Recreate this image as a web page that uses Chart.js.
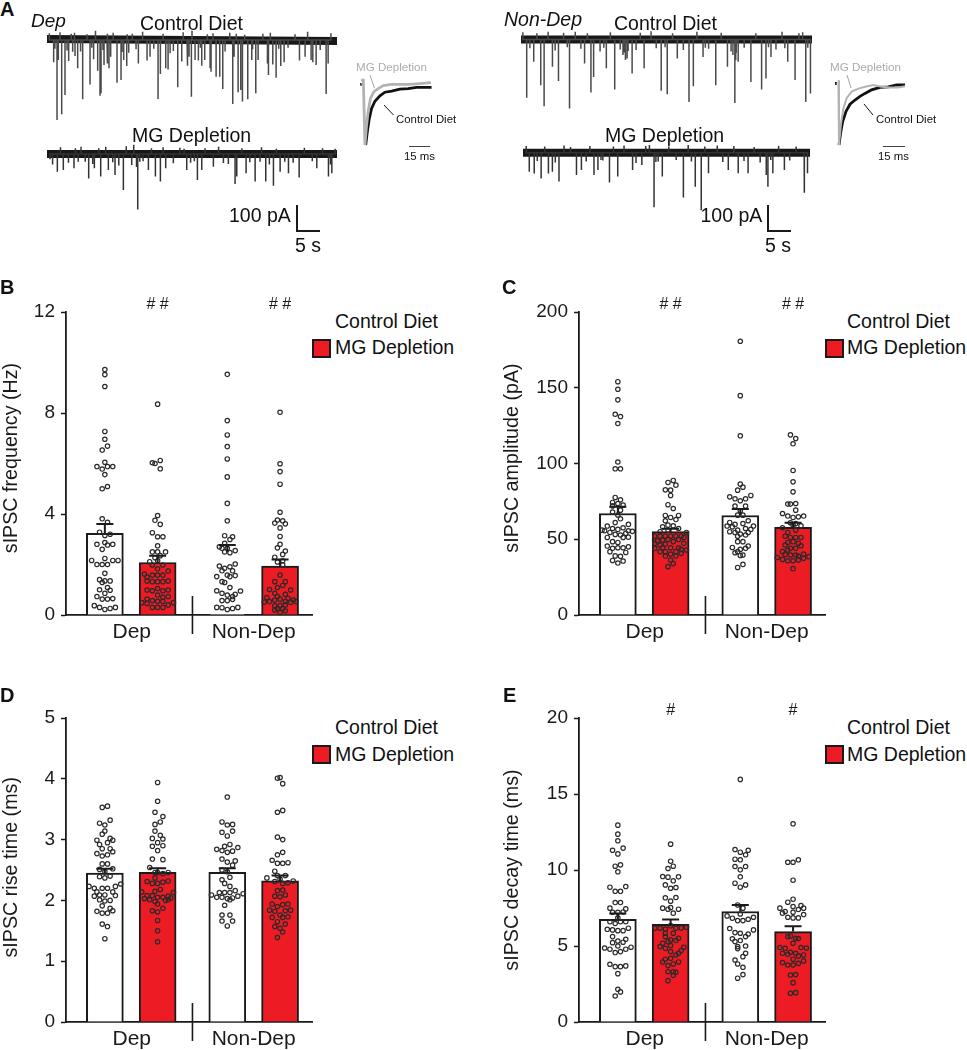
<!DOCTYPE html>
<html>
<head>
<meta charset="utf-8">
<title>sIPSC figure</title>
<script src="https://cdn.jsdelivr.net/npm/chart.js@4"></script>
<style>
  html, body { margin: 0; padding: 0; background: #fff; }
  #page { position: relative; width: 967px; height: 1050px; overflow: hidden; font-family: "Liberation Sans", Arial, sans-serif; color: #111; }
  #page canvas { position: absolute; }
  .lbl { position: absolute; white-space: nowrap; line-height: 1; transform: translateY(-50%); }
  .box { position: absolute; box-sizing: border-box; background: #ed1c24; border: 2px solid #1a1a1a; width: 19px; height: 19px; }
  .bar { position: absolute; background: #1a1a1a; }
  svg { position: absolute; left: 0; top: 0; }
</style>
</head>
<body>
<div id="page"></div>
<script>
// bar summary values: Dep control, Dep MG, Non-Dep control, Non-Dep MG
const bMeans = [3.23, 2.08, 2.5, 1.94];
const bCaps = [3.6, 2.35, 2.77, 2.2];
const cMeans = [67, 55, 65.7, 57.8];
const cCaps = [71.4, 57, 69.9, 60.9];
const dMeans = [2.45, 2.46, 2.46, 2.32];
const dCaps = [2.52, 2.53, 2.53, 2.41];
const eMeans = [6.76, 6.43, 7.27, 5.95];
const eCaps = [7.13, 6.74, 7.7, 6.3];

const groupX = [1, 2, 3.32, 4.32];
const xLabels = ["Dep", "Non-Dep"];
const xLabelAt = [1.51, 3.82];
const bTicks = [0, 4, 8, 12];
const cTicks = [0, 50, 100, 150, 200];
const dTicks = [0, 1, 2, 3, 4, 5];
const eTicks = [0, 5, 10, 15, 20];
const bSig = ["", "# #", "", "# #"];
const cSig = ["", "# #", "", "# #"];
const dSig = ["", "", "", ""];
const eSig = ["", "#", "", "#"];

// individual cells: Y = value, X = sideways offset in half dot widths
const bDepCtrlY = [9.72,9.52,9.05,7.27,6.96,6.69,6.53,6.05,5.88,5.88,5.88,5.78,5.56,5.09,5.0,3.81,3.67,3.28,3.2,3.15,2.8,2.87,2.77,2.8,2.6,2.24,2.16,2.16,2.16,2.0,2.0,2.0,1.65,1.4,1.35,1.29,1.35,1.0,1.09,0.98,0.86,0.73,0.63,0.65,0.63,0.37,0.3,0.22,0.26,0.3];
const bDepCtrlX = [0,0,0,0,0,1,-1,0,-3,1,3,-1,0,1,-1,-1,1,-2,2,0,-3,0,1,3,-1,0,-5,3,5,-3,-1,1,0,-2,2,-1,0,-2,1,2,0,-3,-1,3,1,-4,-2,0,2,4];
const bDepMgY = [8.35,6.03,6.0,6.12,5.79,3.94,3.75,3.59,3.26,3.1,3.1,2.74,2.5,2.5,2.5,2.35,2.27,2.11,2.15,1.98,1.98,1.83,1.74,1.62,1.5,1.58,1.58,1.58,1.32,1.32,1.35,1.32,1.35,1.05,0.99,0.96,0.96,0.99,0.79,0.73,0.7,0.63,0.57,0.54,0.54,0.49,0.46,0.49,0.4,0.3,0.3,0.3];
const bDepMgX = [0,-2,-1,1,1,0,-1,1,-2,0,2,0,-2,0,3,1,-1,-3,0,2,-2,0,4,-5,-4,-2,0,2,-2,0,-4,2,4,0,-4,-2,2,4,0,4,2,-4,-2,0,2,-6,-4,6,4,-2,0,2];
const bNonCtrlY = [9.53,7.7,7.13,6.67,6.18,5.47,4.42,3.73,3.14,3.1,2.99,2.7,2.84,2.64,2.64,2.5,2.47,2.55,2.02,1.94,1.91,1.85,1.75,1.75,1.58,1.56,1.52,1.52,1.32,1.29,1.09,0.96,0.95,0.86,0.79,0.82,0.73,0.57,0.57,0.62,0.3,0.29,0.22,0.26,0.3];
const bNonCtrlX = [0,0,0,0,0,0,0,0,-1,2,1,-3,-1,-2,0,-1,1,3,3,-3,1,-1,-2,2,0,3,1,-4,-2,-1,1,-4,5,-2,0,3,2,-2,0,2,-4,-2,0,2,4];
const bNonMgY = [8.03,5.99,5.68,5.18,4.07,3.76,3.73,3.64,3.61,3.45,3.11,2.8,2.66,2.53,2.4,2.29,2.1,2.15,1.99,1.58,1.32,1.32,1.17,1.09,1.01,0.99,0.86,0.82,0.73,0.69,0.63,0.66,0.59,0.53,0.51,0.53,0.59,0.53,0.5,0.37,0.36,0.4,0.26,0.26,0.2,0.17,0.1];
const bNonMgX = [0,0,0,0,0,-1,1,-2,2,0,0,0,-1,2,1,-2,-1,1,1,0,-2,2,1,-1,-4,4,-2,2,-1,-5,0,3,-2,-4,-6,2,5,6,4,0,-2,2,-1,1,-2,2,0];

const cDepCtrlY = [154,149,142,132.5,131,126.4,101,96.5,96.5,77.6,76,74.3,73.6,72,72.5,69.2,68,66,63.5,61,59.8,58.7,57.6,57.1,55.6,56.5,55.6,55.2,54.5,56,53.9,53.2,52.8,51.2,51.2,51.4,48.4,47.9,45.5,44,44.4,44.4,45,41.8,41.3,39,38.7,36,35.6,34.3];
const cDepCtrlX = [0,0,0,-1,1,0,0,-1,1,-1,1,-2,0,-2,2,1,-2,0,1,-1,4,-4,2,-2,-5,0,4,5.5,-3,-6,3,-1,1,-4,2,4,-2,0,-4,-2,0,2,4,-3,3,-1,1,-2,2,0];
const cDepMgY = [88.8,87.5,85.7,82.6,82.4,78.9,72.8,70.3,65.7,65.7,64.4,63,62.2,59.3,58.9,58.2,57.1,56,55,54.5,52,52,52,52,52,52,48.8,49.5,49.9,48.4,49.9,51.2,47.3,46.8,47.3,46.2,44.4,44.4,44,44.4,43.3,42.9,41.8,41.8,41.8,40.2,38.9,38.9,36.3,34,31.9,40.7];
const cDepMgX = [1,-1,2,-2,0,0,-1,1,3,-2,0,2,-2,-1,1,-3,3,-1,-4,6,-6,-4,-2,0,2,4,-5,-3,-1,1,3,5,-6,-2,5,-4,0,3,-6,-3,4,6,-4,-2,2,0,-2,2,0,1,-1,4];
const cNonCtrlY = [180.7,144.8,118.3,86.4,84.4,82.4,78.9,78,76.7,76.7,75.4,71.9,71.9,68.8,65.9,65.9,61.1,62.2,59.8,60.4,58.7,58.2,58.7,56,57.1,56.5,55,54.5,54.5,53.4,52.8,52,44.6,48.4,48.4,45.5,43.3,44,41.1,41.8,39.6,39.3,31.4,33.4];
const cNonCtrlX = [0,0,0,0,1,-1,4,-4,-2,2,0,-2,2,0,-1,1,-4,3,-2,1,-5,-3,5,-1,2,4,-4,-2,3,0,2,-1,-3,1,-1,3,0,2,-2,-1,1,0,-1,1];
const cNonMgY = [118.9,116.5,113,95.4,87.9,81.3,73.2,73.2,73.6,69.2,67,65.3,64.4,64.8,65.3,60.9,60.4,57.6,59.3,58.9,54.5,56,52,51.2,51.2,51.2,47.9,48.4,47.3,46.2,45.7,44,44,42.9,41.8,40,39.6,39.6,40.2,38.9,38.5,38,36.7,35.8,35.8,36.3,37.4,30.6];
const cNonMgX = [-1,1,0,0,0,0,-2,-1,1,1,-4,-2,0,2,4,-1,1,-4,0,3,-2,1,-3,-1,1,3,-2,0,2,-3,3,-1,1,-2,-4,-3,-1,1,4,2,6,-6,-4,-2,0,2,4,0];

const dDepCtrlY = [3.53,3.55,3.32,3.27,3.24,3.14,3.09,3.02,2.99,2.99,2.95,2.92,2.85,2.85,2.8,2.77,2.75,2.73,2.6,2.6,2.51,2.52,2.47,2.39,2.4,2.37,2.27,2.23,2.23,2.2,2.2,2.2,2.14,2.14,2.07,2.09,2.09,2.08,2.01,1.99,2,1.91,1.87,1.82,1.83,1.79,1.79,1.61,1.57,1.37];
const dDepCtrlX = [-1,1,2,-2,0,0,-1,2,-3,3,1,-2,-1,2,3,-3,1,-1,-1,1,-2,3,0,-2,2,0,6,-6,4,-4,-1,1,-3,3,-4,-2,0,4,-2,0,2,-1,2,-3,3,-1,1,-1,1,0];
const dDepMgY = [3.94,3.63,3.45,3.38,3.29,3.25,3.14,3.07,3.02,3.01,2.95,2.89,2.9,2.82,2.68,2.67,2.54,2.46,2.46,2.46,2.44,2.37,2.31,2.32,2.28,2.28,2.3,2.18,2.15,2.14,2.13,2.08,2.08,2.05,2.05,2.07,2.03,2.04,2.01,1.98,2,2.01,1.94,1.87,1.83,1.81,1.67,1.5,1.32];
const dDepMgX = [0,0,-1,2,1,-1,-1,1,-2,2,0,-2,2,0,-2,2,-3,0,4,-1,2,-1,-4,4,-2,0,2,1,-1,-6,6,-4,-2,0,2,4,-5,5,-3,-1,3,4,0,2,-2,0,0,0,0];
const dNonCtrlY = [3.7,3.29,3.24,3.25,3.12,3.14,3.06,2.92,2.89,2.87,2.84,2.82,2.81,2.79,2.68,2.65,2.63,2.58,2.5,2.47,2.38,2.34,2.28,2.23,2.16,2.13,2.13,2.13,2.11,2.09,2.07,2.05,2.05,2.03,2.04,2.01,1.92,1.76,1.76,1.66,1.66,1.58];
const dNonCtrlX = [0,-2,0,2,-2,2,0,1,-1,4,-4,-2,2,0,-2,3,0,2,-2,0,1,-2,-1,1,3,-3,-1,1,6,-6,4,-4,-2,0,2,1,-1,-2,1,-2,2,0];
const dNonMgY = [4.01,4.02,3.92,3.48,3.45,3.04,3,2.79,2.75,2.66,2.61,2.61,2.62,2.48,2.41,2.41,2.37,2.35,2.31,2.28,2.29,2.32,2.17,2.16,2.07,2.06,2.09,1.94,1.9,1.93,1.94,1.84,1.82,1.83,1.84,1.76,1.72,1.72,1.73,1.65,1.61,1.57,1.54,1.48,1.39];
const dNonMgX = [-1,0,1,1,-1,-1,1,1,-1,-3,-1,1,3,-2,-1,2,-5,0,-2,1,3,5,1,-1,-2,0,2,-3,-1,1,3,-4,-2,2,4,0,1,-3,3,-1,2,-2,0,1,-1];

const eDepCtrlY = [12.95,12.36,11.92,11.44,11.3,11.06,10.34,10.25,9.88,8.91,8.87,8.6,8.6,7.86,7.86,7.49,7.44,7.22,7.22,7.24,6.85,6.6,6.6,6.6,6.48,6.17,6.1,6.06,6.01,6.01,5.62,5.44,5.33,5.22,5.25,5,4.92,4.87,4.79,4.79,4.63,4.57,3.8,3.64,3.64,3.69,3.18,2.15,1.98,1.71];
const eDepCtrlX = [0,0,0,2,-2,0,1,-1,0,3,-3,-1,1,-1,1,-3,3,-2,0,2,0,-3,3,1,-1,4,-4,-2,0,2,-2,3,0,-2,2,0,5,-5,-3,3,1,-1,-3,-1,1,3,0,0,1,-1];
const eDepMgY = [11.7,10.58,10.25,10.1,9.57,9.53,9.55,9.29,9.02,8.85,8.8,8.17,8.19,7.95,7.53,7.49,7.42,7.42,7.16,6.34,6.17,6.12,6.17,6.19,6.23,6.17,5.84,5.84,5.62,5.51,5.4,5.36,5.18,5.29,4.96,5.03,4.92,4.85,4.7,4.63,4.52,4.41,4.19,4.13,3.95,3.95,3.82,3.71,3.31,3.27,3.31,3.07,2.72];
const eDepMgX = [0,0,1,-1,-3,-1,3,1,-2,2,0,-2,2,0,0,-3,-1,3,1,0,-4,-2,2,4,6,-6,-2,1,-2,3,0,2,-3,-1,-4,0,5,-2,4,0,3,2,0,-2,-3,3,1,-1,1,2,-1,1,-1];
const eNonCtrlY = [15.96,11.35,11.3,11.17,11,10.71,10.67,10.23,10.23,10.01,9.55,9.13,9.02,8.87,7.7,7.49,7.11,6.89,6.98,6.83,6.76,6.67,6.67,6.15,6.06,5.88,5.84,5.79,5.62,5.47,5.36,5.29,4.96,5,4.83,4.52,4.3,4.08,3.82,3.6,3.12,2.88];
const eNonCtrlX = [0,-2,3,0,2,-2,0,2,-2,0,0,-2,2,0,-1,1,0,5,-5,-3,3,-1,1,-4,5,-2,0,3,2,-3,0,-2,-1,2,-1,2,1,-2,-1,1,1,-1];
const eNonMgY = [13.04,10.67,10.51,10.51,9.33,8.08,7.88,7.66,7.49,7.6,7.49,7.27,7.22,7.4,7.16,7.07,6.89,6.85,6.85,5.62,5.66,5.51,5.49,5.18,4.9,4.85,4.9,4.87,4.52,4.45,4.59,4.52,4.41,4.13,4.35,3.91,3.75,3.75,3.86,4.02,3.09,3.12,2.59,1.89,1.93];
const eNonMgX = [0,2,-2,0,0,0,-2,3,-5,0,4,-3,0,2,-4,4,-2,0,2,-2,-1,1,2,0,-5,-3,3,5,-4,-2,-1,1,4,0,2,-4,-2,0,2,4,-1,1,0,-1,1];

// recordings in panel A: event time (s) and depth (pA)
const depCtrlT = [1.43,2.15,2.43,3.15,3.86,4.65,5.51,6.01,6.58,7.65,9.23,10.0,10.87,11.37,11.59,12.23,12.88,13.3,13.66,15.02,15.88,16.45,17.1,17.53,19.6,21.46,22.1,23.82,24.32,25.47,25.97,26.4,28.04,28.9,30.04,30.47,30.97,31.76,32.47,33.19,33.83,34.98,35.19,36.27,37.05,37.7,39.84,40.13,40.99,41.56,41.92,43.06,43.92,44.78,45.28,47.28,47.5,48.43,49.14,50.14,50.86,54.15,55.36,56.65,57.01,57.73,59.87,60.3];
const depCtrlA = [86,308,77,286,212,81,45,62,109,228,171,74,118,214,205,96,90,109,64,164,154,77,100,49,90,79,64,227,131,109,113,51,182,83,99,64,218,77,79,99,77,109,122,141,141,188,246,64,201,192,237,228,77,205,77,90,135,94,145,100,86,79,64,77,86,96,208,90];
const depMgT = [0.64,2.22,3.5,5.79,6.7,8.94,10.16,11.52,13.16,14.59,16.38,18.17,19.2,19.46,21.75,23.25,24.32,25.46,29.97,32.26,33.19,35.69,37.84,40.34,40.7,42.7,44.64,45.7,46.92,48.57,50.0,51.79,54.08,57.87,60.37,61.09];
const depMgA = [20,68,62,55,30,94,55,87,62,81,138,42,50,213,62,87,106,55,62,100,62,49,35,115,87,74,106,30,106,122,68,74,90,55,87,74];
const nonCtrlT = [1.22,2.72,4.22,4.94,6.72,8.01,10.37,13.59,14.95,15.52,18.24,20.03,21.8,22.32,22.68,23.75,26.32,29.97,31.26,33.41,35.91,36.84,38.91,41.63,44.13,45.71,45.9,46.42,49.14,51.43,52.36,53.43,57.01,58.58,60.87,61.87];
const nonCtrlA = [224,86,176,257,105,160,265,92,204,144,111,192,60,79,73,131,111,197,211,73,240,180,67,176,105,244,80,86,163,192,150,67,86,156,240,208];
const nonMgT = [1.36,2.43,3.93,5.51,6.37,7.8,11.59,12.66,15.38,16.24,18.74,20.53,23.75,25.75,28.4,30.19,34.76,37.34,38.63,40.2,44.49,46.64,48.78,52.72,53.08,54.15,56.65,60.94,61.66];
const nonMgA = [73,80,99,80,73,111,86,67,86,67,115,92,67,47,210,92,172,131,221,79,67,79,79,86,131,79,67,154,79];

// small noise on the baseline, positive is upward
const depCtrlNoiseT = [0.5,1.7,2.8,4.3,5.2,5.9,7.2,8.6,9.6,10.4,12.0,13.0,14.2,16.1,17.2,18.3,19.1,20.5,22.9,24.9,27.1,29.2,30.2,31.1,32.9,34.4,35.6,38.2,39.2,40.6,42.4,44.1,46.3,47.9,49.7,51.7,53.2,55.9,58.6,60.9];
const depCtrlNoiseA = [26,-34,30,-40,24,28,-44,22,-30,36,-38,24,28,-46,22,24,-36,32,-34,24,-42,30,-32,36,-30,22,26,-44,28,24,20,-36,24,28,-34,-30,22,32,-38,26];
const depMgNoiseT = [1.2,2.9,4.6,6.1,7.3,8.2,9.8,11.1,12.6,14.1,15.4,17.0,18.6,19.9,20.6,22.4,24.9,27.1,28.5,29.4,30.8,31.6,33.9,36.8,38.9,41.8,43.5,46.0,47.7,49.2,51.0,52.8,55.2,56.9,59.1,60.8,61.8];
const depMgNoiseA = [-40,26,-34,22,28,-30,-38,22,28,-32,-44,30,36,-30,-28,22,26,-36,24,20,-34,-28,22,28,-38,22,-32,26,-40,20,-30,-34,24,-28,22,-40,20];
const nonCtrlNoiseT = [0.4,1.9,3.4,5.8,7.3,9.1,9.9,11.6,12.8,14.2,16.9,17.7,19.1,21.2,22.0,22.9,24.6,25.5,27.8,28.9,30.8,32.4,34.7,37.6,39.4,40.1,42.8,44.9,45.3,46.0,47.7,50.2,52.9,54.5,55.8,56.4,59.4,60.2,61.3];
const nonCtrlNoiseA = [28,-34,24,30,-42,26,-30,30,-36,24,-46,-32,28,-38,-50,-44,-40,26,32,-34,-30,24,-40,30,-32,-36,26,-46,-60,-52,-32,24,-30,-38,30,-34,24,28,-32];
const nonMgNoiseT = [0.7,3.1,4.7,7.0,8.9,10.3,13.7,14.5,16.9,17.3,19.6,21.9,24.5,26.6,27.4,28.8,29.3,31.6,33.2,35.8,36.5,39.4,42.1,43.3,45.7,47.9,50.1,51.4,53.7,55.4,57.8,59.2,61.0];
const nonMgNoiseA = [26,-32,24,-38,28,22,-34,26,-28,-30,24,28,-40,26,30,-36,-34,24,-28,30,-34,24,28,-36,26,-32,22,-38,-28,26,-30,24,-36];

// averaged events: time (ms) and fraction of control peak
const depCtrlAvgT = [0.5,1.6,2.95,4.5,6.8,10.2,13.6,18.2,23.8,29.5,35.2,40.9,45.4];
const depCtrlAvgV = [-1,-0.78,-0.56,-0.39,-0.27,-0.18,-0.12,-0.1,-0.07,-0.06,-0.04,-0.04,-0.04];
const depMgAvgT = [-2.7,-1.1,0,1.1,2.3,3.8,6.1,9,12.5,18,24,29.5,35,41,45];
const depMgAvgV = [0.08,0.08,-1,-0.67,-0.42,-0.22,-0.11,-0.06,-0.01,0.01,0.01,0.01,0.02,0.03,0.04];
const nonCtrlAvgT = [0,1.1,2.5,4.8,7.5,10.9,14.3,17.7,22.2,27.9,33.6,39.3,45];
const nonCtrlAvgV = [-1,-0.8,-0.61,-0.44,-0.32,-0.25,-0.19,-0.14,-0.08,-0.04,-0.03,0,0];
const nonMgAvgT = [-0.4,0,1.4,3,5.2,8.6,13.2,17.7,23.4,29,34.7,40.4,45];
const nonMgAvgV = [0.08,-1,-0.64,-0.39,-0.22,-0.11,-0.06,-0.03,0,-0.03,-0.04,-0.04,-0.02];
const depStimT = [-2.9, -2.6];
const depStimV = [0.03, -0.01];
const nonStimT = [-2.3, -2.1];
const nonStimV = [0.05, 0.0];

const FONT = "'Liberation Sans', Arial, sans-serif";
const INK = "#1a1a1a";
const RED = "#ed1c24";
const page = document.getElementById("page");
Chart.defaults.animation = false;
Chart.defaults.font.family = FONT;
Chart.defaults.color = INK;

function addCanvas(left, top, width, height) {
  const c = document.createElement("canvas");
  c.width = width;
  c.height = height;
  c.style.left = left + "px";
  c.style.top = top + "px";
  c.style.width = width + "px";
  c.style.height = height + "px";
  page.appendChild(c);
  return c;
}

function addText(text, x, cy, size, extra) {
  const d = document.createElement("div");
  d.className = "lbl";
  d.textContent = text;
  d.style.left = x + "px";
  d.style.top = cy + "px";
  d.style.fontSize = size + "px";
  Object.assign(d.style, extra || {});
  page.appendChild(d);
}

function addRule(left, top, width, height, color) {
  const d = document.createElement("div");
  d.className = "bar";
  d.style.cssText = `left:${left}px;top:${top}px;width:${width}px;height:${height}px;` + (color ? `background:${color};` : "");
  page.appendChild(d);
}

// stems, caps and the # marks, placed through the chart's scales
const summaryMarks = {
  id: "summaryMarks",
  afterDatasetsDraw(chart, _args, opts) {
    const { ctx, scales: { x, y }, chartArea } = chart;
    ctx.save();
    ctx.strokeStyle = INK;
    ctx.lineWidth = 2;
    opts.means.forEach((m, i) => {
      const px = x.getPixelForValue(groupX[i]);
      ctx.beginPath();
      ctx.moveTo(px, y.getPixelForValue(m));
      ctx.lineTo(px, y.getPixelForValue(opts.caps[i]));
      ctx.moveTo(px - 8.5, y.getPixelForValue(opts.caps[i]));
      ctx.lineTo(px + 8.5, y.getPixelForValue(opts.caps[i]));
      ctx.stroke();
    });
    ctx.fillStyle = INK;
    ctx.font = "16px " + FONT;
    ctx.textAlign = "center";
    ctx.textBaseline = "middle";
    opts.sig.forEach((s, i) => {
      if (s) ctx.fillText(s, x.getPixelForValue(groupX[i]), chartArea.top - 7);
    });
    ctx.restore();
  },
};

function swarm(i, ys, xs) {
  return {
    type: "scatter",
    order: 1,
    clip: false,
    data: ys.map((v, k) => ({ x: groupX[i] + xs[k] * 0.05, y: v })),
    pointRadius: 2.2,
    pointBorderWidth: 1.2,
    pointBorderColor: "#2a2a2a",
    pointBackgroundColor: "rgba(0,0,0,0)",
  };
}

function makePanel(cfg) {
  const canvas = addCanvas(cfg.left, cfg.top, cfg.width, cfg.height);
  const yMax = cfg.ticks[cfg.ticks.length - 1];
  new Chart(canvas, {
    type: "bar",
    data: {
      datasets: [
        {
          order: 3,
          data: cfg.means.map((m, i) => ({ x: groupX[i], y: m })),
          barThickness: 37,
          grouped: false,
          borderWidth: 2,
          borderSkipped: "bottom",
          backgroundColor: ["#ffffff", RED, "#ffffff", RED],
          borderColor: cfg.hideThird ? [INK, INK, "rgba(0,0,0,0)", INK] : INK,
        },
        {
          type: "line",
          order: 2,
          clip: false,
          data: [{ x: 2.66, y: cfg.sep }, { x: 2.66, y: -cfg.sep }],
          borderColor: INK,
          borderWidth: 1.6,
          pointRadius: 0,
        },
        swarm(0, cfg.swarms[0], cfg.swarms[1]),
        swarm(1, cfg.swarms[2], cfg.swarms[3]),
        swarm(2, cfg.swarms[4], cfg.swarms[5]),
        swarm(3, cfg.swarms[6], cfg.swarms[7]),
      ],
    },
    plugins: [summaryMarks],
    options: {
      responsive: false,
      layout: { padding: { top: 22, right: cfg.width - cfg.axisLeft - 246, left: 0, bottom: 0 } },
      plugins: {
        legend: { display: false },
        tooltip: { enabled: false },
        summaryMarks: { means: cfg.means, caps: cfg.caps, sig: cfg.sig },
      },
      scales: {
        x: {
          type: "linear",
          offset: false,
          min: 0.264,
          max: 4.925,
          afterFit(s) { s.height = cfg.bottom; },
          afterBuildTicks(s) { s.ticks = xLabelAt.map((v) => ({ value: v })); },
          grid: { display: false, drawTicks: false },
          border: { display: true, color: INK, width: 1.8 },
          ticks: {
            autoSkip: false,
            maxRotation: 0,
            padding: 5,
            color: INK,
            font: { size: 21 },
            callback: (v) => xLabels[xLabelAt.indexOf(v)],
          },
        },
        y: {
          min: 0,
          max: yMax,
          afterFit(s) { s.width = cfg.axisLeft; },
          afterBuildTicks(s) { s.ticks = cfg.ticks.map((v) => ({ value: v })); },
          grid: { drawOnChartArea: false, tickLength: 5, tickColor: INK, tickWidth: 1.5 },
          border: { display: true, color: INK, width: 1.8 },
          ticks: { padding: 6, color: INK, font: { size: 19 } },
          title: {
            display: true,
            text: cfg.title,
            color: INK,
            font: { size: 19.7 },
            padding: { top: cfg.titlePad, bottom: 0 },
          },
        },
      },
    },
  });
}

const colLeft = [
  { left: 0, width: 330, axisLeft: 66, titlePad: 0 },
  { left: 490, width: 350, axisLeft: 89, titlePad: 11 },
];

makePanel({
  ...colLeft[0], top: 290, height: 360, bottom: 35,
  ticks: bTicks, means: bMeans, caps: bCaps, sig: bSig, sep: 0.75, hideThird: true,
  title: "  sIPSC frequency (Hz)",
  swarms: [bDepCtrlY, bDepCtrlX, bDepMgY, bDepMgX, bNonCtrlY, bNonCtrlX, bNonMgY, bNonMgX],
});
makePanel({
  ...colLeft[1], top: 290, height: 360, bottom: 35,
  ticks: cTicks, means: cMeans, caps: cCaps, sig: cSig, sep: 12.5,
  title: "  sIPSC amplitude (pA)",
  swarms: [cDepCtrlY, cDepCtrlX, cDepMgY, cDepMgX, cNonCtrlY, cNonCtrlX, cNonMgY, cNonMgX],
});
makePanel({
  ...colLeft[0], top: 696, height: 354, bottom: 28,
  ticks: dTicks, means: dMeans, caps: dCaps, sig: dSig, sep: 0.3125,
  title: " sIPSC rise time (ms)",
  swarms: [dDepCtrlY, dDepCtrlX, dDepMgY, dDepMgX, dNonCtrlY, dNonCtrlX, dNonMgY, dNonMgX],
});
makePanel({
  ...colLeft[1], top: 696, height: 354, bottom: 28,
  ticks: eTicks, means: eMeans, caps: eCaps, sig: eSig, sep: 1.25,
  title: "sIPSC decay time (ms)",
  swarms: [eDepCtrlY, eDepCtrlX, eDepMgY, eDepMgX, eNonCtrlY, eNonCtrlX, eNonMgY, eNonMgX],
});

function makeTrace(left, top, width, height, baseY, drift, times, amps, noiseT, noiseA, color) {
  const pxPerPa = 0.26;
  const ev = [];
  times.forEach((t, i) => ev.push([t, -amps[i]]));
  noiseT.forEach((t, i) => ev.push([t, noiseA[i]]));
  ev.sort((a, b) => a[0] - b[0]);
  const pts = [];
  ev.forEach(([t, a]) => pts.push({ x: t, y: 0 }, { x: t, y: a }, { x: t, y: 0 }));
  new Chart(addCanvas(left, top, width, height), {
    type: "line",
    data: {
      datasets: [
        { data: pts, borderColor: color, borderWidth: 1.5, pointRadius: 0, tension: 0 },
        { data: [{ x: 0, y: drift }, { x: 62.2, y: -drift }], borderColor: "#181818", borderWidth: 8, pointRadius: 0 },
      ],
    },
    options: {
      responsive: false,
      plugins: { legend: { display: false }, tooltip: { enabled: false } },
      scales: {
        x: { type: "linear", display: false, min: 0, max: 62.2 },
        y: { display: false, max: (baseY - top) / pxPerPa, min: -(top + height - baseY) / pxPerPa },
      },
    },
  });
}

makeTrace(47, 25, 290, 100, 40, 4, depCtrlT, depCtrlA, depCtrlNoiseT, depCtrlNoiseA, "#4a4a4a");
makeTrace(47, 140, 290, 75, 154, 0, depMgT, depMgA, depMgNoiseT, depMgNoiseA, "#333333");
makeTrace(521, 25, 291, 100, 39.5, 0, nonCtrlT, nonCtrlA, nonCtrlNoiseT, nonCtrlNoiseA, "#4a4a4a");
makeTrace(523, 138, 287, 77, 152.7, 0, nonMgT, nonMgA, nonMgNoiseT, nonMgNoiseA, "#333333");

function makeAverage(left, xMin, xMax, ctrlT, ctrlV, mgT, mgV, stimT, stimV, mgWidth) {
  const pts = (ts, vs) => ts.map((t, i) => ({ x: t, y: vs[i] }));
  new Chart(addCanvas(left, 55, 110, 110), {
    type: "line",
    data: {
      datasets: [
        { data: pts(mgT, mgV), borderColor: "#b3b3b3", borderWidth: mgWidth, pointRadius: 0, order: 1 },
        { data: pts(ctrlT, ctrlV), borderColor: "#111111", borderWidth: 2.8, pointRadius: 0, order: 2 },
        { data: pts(stimT, stimV), borderColor: "#111111", borderWidth: 1.5, pointRadius: 0, order: 0 },
      ],
    },
    options: {
      responsive: false,
      plugins: { legend: { display: false }, tooltip: { enabled: false } },
      scales: {
        x: { type: "linear", display: false, min: xMin, max: xMax },
        y: { display: false, min: -1.333, max: 0.5 },
      },
    },
  });
}

makeAverage(350, -10.2, 64.8, depCtrlAvgT, depCtrlAvgV, depMgAvgT, depMgAvgV, depStimT, depStimV, 2.8);
makeAverage(830, -6.13, 68.8, nonCtrlAvgT, nonCtrlAvgV, nonMgAvgT, nonMgAvgV, nonStimT, nonStimV, 2);

// panel letters and text around the recordings
addText("A", 0, 9, 20, { fontWeight: "bold" });
addText("B", 0, 287, 20, { fontWeight: "bold" });
addText("C", 502, 287, 20, { fontWeight: "bold" });
addText("D", 0, 695, 20, { fontWeight: "bold" });
addText("E", 503, 695, 20, { fontWeight: "bold" });
addText("Dep", 31, 20, 19, { fontStyle: "italic" });
addText("Non-Dep", 504, 20, 19.5, { fontStyle: "italic" });

addText("Control Diet", 140, 24, 19.5);
addText("MG Depletion", 132, 136, 19.5);
addText("Control Diet", 614, 24, 19.5);
addText("MG Depletion", 605, 136, 19.5);

addText("100 pA", 229, 216, 19.5);
addText("5 s", 295, 246, 19.5);
addRule(296, 205, 1.5, 26);
addRule(296, 230, 23.5, 1.5);
addText("100 pA", 700.5, 216, 19.5);
addText("5 s", 765, 246, 19.5);
addRule(767, 205, 1.5, 26);
addRule(767, 230, 23.5, 1.5);

addText("MG Depletion", 356, 67, 11.6, { color: "#ababab" });
addText("Control Diet", 396, 120, 11.4);
addText("15 ms", 404, 157, 11.4);
addRule(409, 146, 21, 1.3, "#444");
addText("MG Depletion", 830, 67, 11.6, { color: "#ababab" });
addText("Control Diet", 876, 120, 11.4);
addText("15 ms", 878, 157, 11.4);
addRule(883, 146, 22, 1.3, "#444");

const ns = "http://www.w3.org/2000/svg";
const leaders = document.createElementNS(ns, "svg");
leaders.setAttribute("width", 967);
leaders.setAttribute("height", 265);
page.appendChild(leaders);
function addLeader(x1, y1, x2, y2, color) {
  const l = document.createElementNS(ns, "line");
  l.setAttribute("x1", x1); l.setAttribute("y1", y1);
  l.setAttribute("x2", x2); l.setAttribute("y2", y2);
  l.setAttribute("stroke", color); l.setAttribute("stroke-width", 1);
  leaders.appendChild(l);
}
addLeader(370, 75, 374.5, 88, "#a5a5a5");
addLeader(384, 105, 393.5, 115, "#111");
addLeader(847, 75, 851, 88, "#a5a5a5");
addLeader(864, 104, 873, 115, "#111");

// legends
[[335, 312, 322, 348], [847, 824.5, 322, 348], [335, 312, 728, 754.5], [847, 824.5, 728, 754.5]].forEach(([tx, bx, y1, y2]) => {
  addText("Control Diet", tx, y1, 19.5);
  addText("MG Depletion", tx, y2, 19.5);
  const b = document.createElement("div");
  b.className = "box";
  b.style.left = bx + "px";
  b.style.top = y2 - 9.5 + "px";
  page.appendChild(b);
});
</script>
</body>
</html>
